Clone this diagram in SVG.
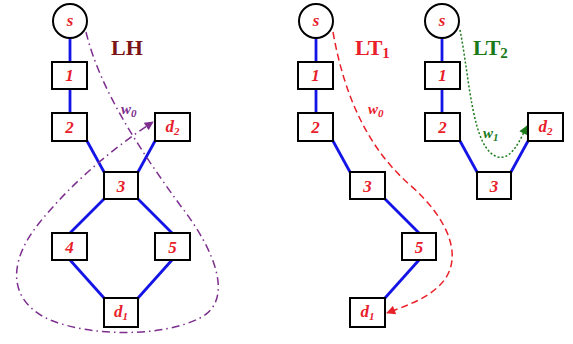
<svg xmlns="http://www.w3.org/2000/svg" width="573" height="344" viewBox="0 0 573 344">
<style>
.nd{fill:#fff;stroke:#000;stroke-width:2}
.e{stroke:#1414e6;stroke-width:2.8;fill:none}
.t{font-family:"Liberation Serif",serif;font-style:italic;font-weight:bold;font-size:17px;fill:#e8202a;text-anchor:middle}
.ttl{font-family:"Liberation Serif",serif;font-weight:bold;font-size:22px}
.w{font-family:"Liberation Serif",serif;font-style:italic;font-weight:bold;font-size:15px}
.sub{font-size:11px}
</style>
<defs>
<marker id="ap" viewBox="0 0 10 10" refX="9" refY="5" markerWidth="11" markerHeight="9" orient="auto" markerUnits="userSpaceOnUse"><path d="M0,0 L10,5 L0,10 z" fill="#7d2e8e"/></marker>
<marker id="ar" viewBox="0 0 10 10" refX="9" refY="5" markerWidth="11" markerHeight="9" orient="auto" markerUnits="userSpaceOnUse"><path d="M0,0 L10,5 L0,10 z" fill="#e8202a"/></marker>
<marker id="ag" viewBox="0 0 10 10" refX="9" refY="5" markerWidth="10" markerHeight="9" orient="auto" markerUnits="userSpaceOnUse"><path d="M0,0 L10,5 L0,10 z" fill="#1a7a1a"/></marker>
</defs>
<g id="connectors">
<line class="e" x1="70" y1="38" x2="70" y2="62"/>
<line class="e" x1="70" y1="89" x2="70" y2="113"/>
<line class="e" x1="87" y1="141" x2="104" y2="172"/>
<line class="e" x1="155" y1="141" x2="138" y2="172"/>
<line class="e" x1="104" y1="199" x2="70" y2="233"/>
<line class="e" x1="138" y1="199" x2="172" y2="233"/>
<line class="e" x1="70" y1="260" x2="104" y2="298"/>
<line class="e" x1="172" y1="260" x2="138" y2="298"/>
<line class="e" x1="316" y1="38" x2="316" y2="62"/>
<line class="e" x1="316" y1="89" x2="316" y2="113"/>
<line class="e" x1="333" y1="141" x2="350" y2="172"/>
<line class="e" x1="385" y1="199" x2="419" y2="233"/>
<line class="e" x1="419" y1="260" x2="385" y2="298"/>
<line class="e" x1="442" y1="38" x2="442" y2="62"/>
<line class="e" x1="442" y1="89" x2="442" y2="113"/>
<line class="e" x1="460" y1="141" x2="477" y2="172"/>
<line class="e" x1="528" y1="141" x2="511" y2="172"/>
<path d="M86,32 C100,90 140,150 180,205 C215,250 235,300 200,318 C160,338 90,336 50,320 C10,302 5,265 40,222 C70,185 110,150 153,122" fill="none" stroke="#7d2e8e" stroke-width="1.5" stroke-dasharray="8,4,1.5,4" marker-end="url(#ap)"/>
<path d="M333,32 C345,100 370,150 410,185 C450,220 465,260 440,285 C425,300 405,306 387,313" fill="none" stroke="#e8202a" stroke-width="1.5" stroke-dasharray="7,4" marker-end="url(#ar)"/>
<path d="M460,30 C470,80 472,150 498,157 C512,160 520,140 527,126" fill="none" stroke="#1a7a1a" stroke-width="1.5" stroke-dasharray="2,2" marker-end="url(#ag)"/>
</g>
<g id="LH-s"><circle class="nd" cx="70" cy="21" r="17"/><text class="t" x="70" y="26">s</text></g>
<g id="LH-1"><rect class="nd" x="52" y="62" width="35" height="27"/><text class="t" x="69.5" y="81">1</text></g>
<g id="LH-2"><rect class="nd" x="52" y="113" width="35" height="28"/><text class="t" x="69.5" y="133">2</text></g>
<g id="LH-3"><rect class="nd" x="104" y="172" width="34" height="27"/><text class="t" x="121" y="192">3</text></g>
<g id="LH-d2"><rect class="nd" x="155" y="113" width="35" height="28"/><text class="t" x="172.5" y="132">d<tspan class="sub" dy="3">2</tspan></text></g>
<g id="LH-4"><rect class="nd" x="52" y="233" width="35" height="27"/><text class="t" x="69.5" y="253">4</text></g>
<g id="LH-5"><rect class="nd" x="155" y="233" width="35" height="27"/><text class="t" x="172.5" y="253">5</text></g>
<g id="LH-d1"><rect class="nd" x="104" y="298" width="34" height="29"/><text class="t" x="121" y="317">d<tspan class="sub" dy="3">1</tspan></text></g>
<g id="LT1-s"><circle class="nd" cx="316" cy="21" r="17"/><text class="t" x="316" y="26">s</text></g>
<g id="LT1-1"><rect class="nd" x="298" y="62" width="35" height="27"/><text class="t" x="315.5" y="81">1</text></g>
<g id="LT1-2"><rect class="nd" x="298" y="113" width="35" height="28"/><text class="t" x="315.5" y="133">2</text></g>
<g id="LT1-3"><rect class="nd" x="350" y="172" width="35" height="27"/><text class="t" x="367.5" y="192">3</text></g>
<g id="LT1-5"><rect class="nd" x="402" y="233" width="34" height="27"/><text class="t" x="419" y="253">5</text></g>
<g id="LT1-d1"><rect class="nd" x="350" y="298" width="35" height="29"/><text class="t" x="367.5" y="317">d<tspan class="sub" dy="3">1</tspan></text></g>
<g id="LT2-s"><circle class="nd" cx="442" cy="21" r="17"/><text class="t" x="442" y="26">s</text></g>
<g id="LT2-1"><rect class="nd" x="425" y="62" width="35" height="27"/><text class="t" x="442.5" y="81">1</text></g>
<g id="LT2-2"><rect class="nd" x="425" y="113" width="35" height="28"/><text class="t" x="442.5" y="133">2</text></g>
<g id="LT2-3"><rect class="nd" x="477" y="172" width="34" height="27"/><text class="t" x="494" y="192">3</text></g>
<g id="LT2-d2"><rect class="nd" x="528" y="113" width="35" height="28"/><text class="t" x="545.5" y="132">d<tspan class="sub" dy="3">2</tspan></text></g>
<g id="labels">
<text class="ttl" x="111" y="55" fill="#7b1416">LH</text>
<text class="ttl" x="355" y="55" fill="#e8202a">LT<tspan font-size="15" dy="3">1</tspan></text>
<text class="ttl" x="473" y="55" fill="#1a7a1a">LT<tspan font-size="15" dy="3">2</tspan></text>
<text class="w" x="121" y="114" fill="#7d2e8e">w<tspan class="sub" dy="3">0</tspan></text>
<text class="w" x="368" y="114" fill="#e8202a">w<tspan class="sub" dy="3">0</tspan></text>
<text class="w" x="483" y="138" fill="#1a7a1a">w<tspan class="sub" dy="3">1</tspan></text>
</g>
</svg>
